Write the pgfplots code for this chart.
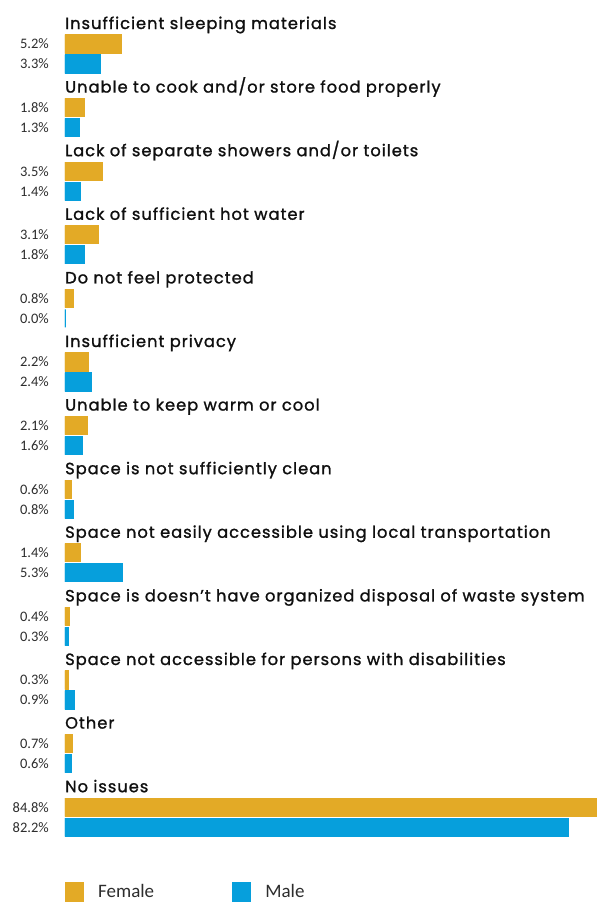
\documentclass[border=0pt]{standalone}
\usepackage{pgfplots}
\pgfplotsset{compat=1.18}
\usepackage{pgfplotstable}
\usepackage{fontspec}
\setmainfont{Carlito}
\newfontfamily\titlefont{Poppins}[FakeBold=1.2, LetterSpace=6]
\newfontfamily\labfont{Carlito}
\definecolor{fcol}{RGB}{227,170,38}
\definecolor{mcol}{RGB}{6,159,220}
\definecolor{tcol}{RGB}{15,15,15}
\definecolor{lcol}{RGB}{45,45,45}
\makeatletter
\def\mytrafo#1{\ifdim #1pt>40pt \dimen0=#1pt \advance\dimen0 by -35.6pt \edef\pgfmathresult{\strip@pt\dimen0}\else\edef\pgfmathresult{#1}\fi}
\makeatother
\pgfplotstableread{
idx female male
0 5.2 3.3
1 1.8 1.3
2 3.5 1.4
3 3.1 1.8
4 0.8 0.0
5 2.2 2.4
6 2.1 1.6
7 0.6 0.8
8 1.4 5.3
9 0.4 0.3
10 0.3 0.9
11 0.7 0.6
12 84.8 82.2
}\datatable
\begin{document}
\begin{tikzpicture}
\useasboundingbox (-65pt,0pt) rectangle (532pt,902pt);
\begin{axis}[
  at={(0pt,0pt)}, anchor=south west,
  scale only axis, width=532pt, height=902pt,
  xmin=0, xmax=84.86, ymin=0, ymax=902, y dir=reverse,
  x coord trafo/.code={\mytrafo{#1}},
  axis line style={draw=none}, major tick length=0pt,
  xtick=\empty,
  ytick={44,64,107.6,127.6,171.2,191.2,234.8,254.8,298.4,318.4,362,382,425.6,445.6,489.2,509.2,552.8,572.8,616.4,636.4,680,700,743.6,763.6,807.2,827.2},
  yticklabels={5.2\%,3.3\%,1.8\%,1.3\%,3.5\%,1.4\%,3.1\%,1.8\%,0.8\%,0.0\%,2.2\%,2.4\%,2.1\%,1.6\%,0.6\%,0.8\%,1.4\%,5.3\%,0.4\%,0.3\%,0.3\%,0.9\%,0.7\%,0.6\%,84.8\%,82.2\%},
  yticklabel style={font=\labfont\fontsize{14.5}{16}\selectfont, text=lcol, inner sep=0pt, anchor=east, xshift=-16pt},
  legend columns=2,
  legend style={at={(axis cs:0,892)}, anchor=west, draw=none, fill=none, inner sep=0pt, outer sep=0pt,
    font=\labfont\fontsize{19}{21}\selectfont, text=lcol,
    nodes={inner sep=0pt, text width=60pt, align=left},
    /tikz/every odd column/.append style={column sep=14pt},
    /tikz/every even column/.append style={column sep=74pt}},
  legend image code/.code={\fill[#1] (0pt,-9pt) rectangle (18pt,9pt);},
]
\addplot[xbar, bar width=18pt, bar shift=0pt, fill=fcol, draw=fcol, line width=1.2pt]
  table[x=female, y expr={44+63.6*\thisrow{idx}}] {\datatable};
\addlegendentry{Female}
\addplot[xbar, bar width=18pt, bar shift=0pt, fill=mcol, draw=mcol, line width=1.2pt]
  table[x=male, y expr={64+63.6*\thisrow{idx}}] {\datatable};
\addlegendentry{Male}
\begin{scope}[every node/.style={anchor=base west, inner sep=0pt, font=\titlefont\fontsize{16.3}{18}\selectfont, text=tcol}]
\node at (axis cs:0,29) {Insufficient sleeping materials};
\node at (axis cs:0,92.6) {Unable to cook and/or store food properly};
\node at (axis cs:0,156.2) {Lack of separate showers and/or toilets};
\node at (axis cs:0,219.8) {Lack of sufficient hot water};
\node at (axis cs:0,283.4) {Do not feel protected};
\node at (axis cs:0,347) {Insufficient privacy};
\node at (axis cs:0,410.6) {Unable to keep warm or cool};
\node at (axis cs:0,474.2) {Space is not sufficiently clean};
\node at (axis cs:0,537.8) {Space not easily accessible using local transportation};
\node at (axis cs:0,601.4) {Space is doesn’t have organized disposal of waste system};
\node at (axis cs:0,665) {Space not accessible for persons with disabilities};
\node at (axis cs:0,728.6) {Other};
\node at (axis cs:0,792.2) {No issues};
\end{scope}
\end{axis}
\end{tikzpicture}
\end{document}
